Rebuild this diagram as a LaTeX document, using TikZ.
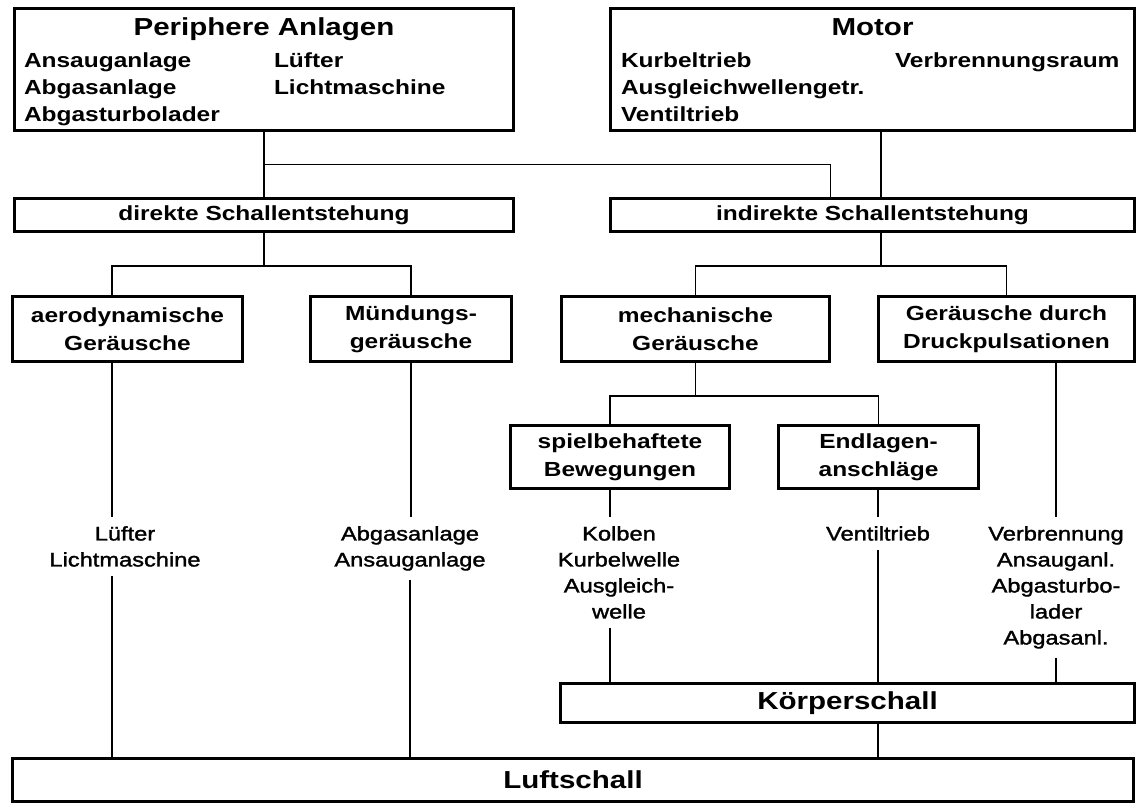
\documentclass[tikz,border=0pt]{standalone}
\usepackage{fontspec}
\setmainfont{Liberation Sans}[FakeStretch=1.2]
\newfontfamily\labfont{Liberation Sans}[FakeStretch=1.2, FakeBold=1.6]
\usetikzlibrary{positioning}
\usetikzlibrary{calc}
\newcommand{\bigtxt}{\fontsize{24.6}{27}\selectfont}
\tikzset{
    mytop/.style = {rectangle, line width=3.4pt, draw=black, align=center, inner ysep=0pt, font=\bfseries\fontsize{20.4}{27}\selectfont},
    mynode/.style = {rectangle, line width=3.4pt, draw=black, align=center, font=\bfseries\fontsize{20.4}{28}\selectfont},
    mybig/.style = {rectangle, line width=3.4pt, draw=black, align=center, font=\bfseries\bigtxt},
    mylabel/.style = {align=center, anchor=north, inner xsep=0pt, inner ysep=9pt, font=\labfont\fontsize{19.7}{26}\selectfont},
    edgen/.style = {-, line width=1.4pt, black},
}

\begin{document}
\begin{tikzpicture}[x=1pt,y=-1pt]
\useasboundingbox (0,0) rectangle (1139,807);
% sources
\node[mytop, minimum width=498.6pt, minimum height=121.6pt] at (264,69.5) (peri) {%
\begin{tabular}{@{}p{250pt}@{}l@{}}
\multicolumn{2}{@{}c@{}}{\makebox[480pt]{\bigtxt\rule{0pt}{27pt}Periphere Anlagen}}\\[5pt]
Ansauganlage & Lüfter\\
Abgasanlage & Lichtmaschine\\
Abgasturbolader &
\end{tabular}};
\node[mytop, minimum width=523.6pt, minimum height=121.6pt] at (872.5,69.5) (motor) {%
\begin{tabular}{@{}p{274pt}@{}l@{}}
\multicolumn{2}{@{}c@{}}{\makebox[503pt]{\bigtxt\rule{0pt}{27pt}Motor}}\\[5pt]
Kurbeltrieb & Verbrennungsraum\\
Ausgleichwellengetr. & \\
Ventiltrieb &
\end{tabular}};
%
\node[mynode, minimum width=498.6pt, minimum height=32.6pt] at (264,215) (direkte) {direkte Schallentstehung};
\node[mynode, minimum width=523.6pt, minimum height=32.6pt] at (872.5,215) (indirekte) {indirekte Schallentstehung};
%
\node[mynode, minimum width=229.6pt, minimum height=64.6pt] at (127.5,329) (aero) {aerodynamische\\Geräusche};
\node[mynode, minimum width=200.6pt, minimum height=64.6pt] at (411,329) (muend) {Mündungs-\\geräusche};
\node[mynode, minimum width=267.6pt, minimum height=64.6pt] at (695.5,329) (mech) {mechanische\\Geräusche};
\node[mynode, minimum width=255.6pt, minimum height=64.6pt] at (1006.5,329) (druck) {Geräusche durch\\Druckpulsationen};
\node[mynode, minimum width=218.6pt, minimum height=62.6pt] at (620,457) (spiel) {spielbehaftete\\Bewegungen};
\node[mynode, minimum width=199.6pt, minimum height=62.6pt] at (878.5,457) (endl) {Endlagen-\\anschläge};
%
\node[mylabel] at (125,517) (lufa) {Lüfter\\Lichtmaschine};
\node[mylabel] at (410,517) (abg) {Abgasanlage\\Ansauganlage};
\node[mylabel] at (619,517) (kol) {Kolben\\Kurbelwelle\\Ausgleich-\\welle};
\node[mylabel] at (878,517) (vent) {Ventiltrieb};
\node[mylabel] at (1056,517) (vb) {Verbrennung\\Ansauganl.\\Abgasturbo-\\lader\\Abgasanl.};
%
\node[mybig, minimum width=573.6pt, minimum height=38.6pt] at (847.5,703) (koerper) {Körperschall};
\node[mybig, minimum width=1120.6pt, minimum height=42.6pt] at (573,780) (luft) {Luftschall};
%
\coordinate (ka) at (112,0);
\coordinate (ks) at (610,0);
\coordinate (km) at (881,0);
%
\draw[edgen] (peri.south) -- (direkte.north);
\draw[edgen] ($(peri.south)!0.5!(direkte.north)$) -| ([xshift=-42pt]indirekte.north);
\draw[edgen] (motor.south -| km) -- (indirekte.north -| km);
\draw[edgen] (direkte.south) -- ++(0,33) coordinate (dj);
\draw[edgen] (aero.north -| ka) |- (dj) -| (muend.north);
\draw[edgen] (indirekte.south -| km) -- ++(0,33) coordinate (ij);
\draw[edgen] (mech.north) |- (ij) -| (druck.north);
\draw[edgen] (mech.south) -- ++(0,33) coordinate (mj);
\draw[edgen] (spiel.north -| ks) |- (mj) -| (endl.north);
% down to the sound paths
\draw[edgen] (aero.south -| ka) -- (lufa.north -| ka);
\draw[edgen] (lufa.south -| ka) -- (luft.north -| ka);
\draw[edgen] (muend.south) -- (muend.south |- abg.north);
\draw[edgen] (abg.south) -- (abg.south |- luft.north);
\draw[edgen] (spiel.south -| ks) -- (kol.north -| ks);
\draw[edgen] (kol.south -| ks) -- (koerper.north -| ks);
\draw[edgen] (endl.south -| vent) -- (vent.north);
\draw[edgen] (vent.south) -- (vent.south |- koerper.north);
\draw[edgen] (druck.south -| vb) -- (vb.north);
\draw[edgen] (vb.south) -- (vb.south |- koerper.north);
\draw[edgen] (koerper.south -| vent) -- (luft.north -| vent);
\end{tikzpicture}
\end{document}
